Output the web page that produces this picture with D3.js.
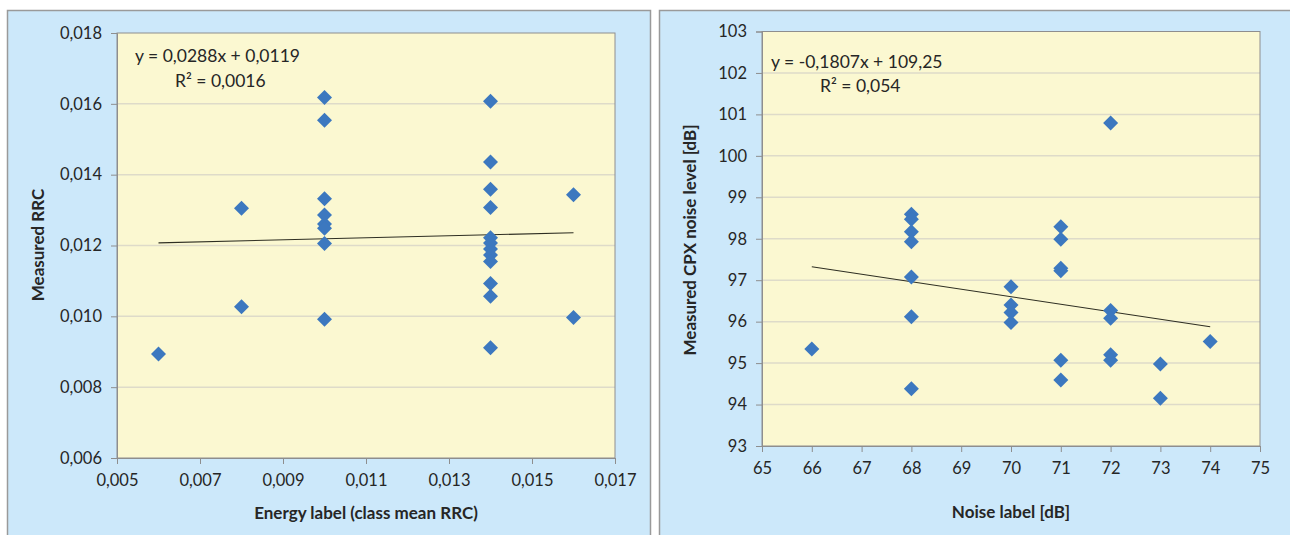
<!DOCTYPE html>
<html>
<head>
<meta charset="utf-8">
<script src="https://cdn.jsdelivr.net/npm/d3@7"></script>
<style>
  html, body { margin: 0; padding: 0; background: #ffffff; }
  svg { display: block; }
  text { font-family: Lato, "Open Sans", sans-serif; fill: #262626; }
</style>
</head>
<body>
<svg id="chart" width="1290" height="535"></svg>
<script>
// ---------- DATA ----------
const leftX = [0.006, 0.008, 0.008, 0.010, 0.010, 0.010, 0.010, 0.010, 0.010, 0.010, 0.010,
               0.014, 0.014, 0.014, 0.014, 0.014, 0.014, 0.014, 0.014, 0.014, 0.014, 0.014, 0.014,
               0.016, 0.016];
const leftY = [0.00894, 0.01305, 0.01027, 0.01618, 0.01554, 0.01332, 0.01286, 0.01261, 0.01249, 0.01206, 0.00992,
               0.01607, 0.01436, 0.01359, 0.01307, 0.01222, 0.01207, 0.01190, 0.01173, 0.01155, 0.01093, 0.01057, 0.00911,
               0.01343, 0.00997];
const leftXTicks = [0.005, 0.007, 0.009, 0.011, 0.013, 0.015, 0.017];
const leftYTicks = [0.006, 0.008, 0.010, 0.012, 0.014, 0.016, 0.018];
const leftTrend = { slope: 0.0288, intercept: 0.0119, x0: 0.006, x1: 0.016 };
const leftEq = ["y = 0,0288x + 0,0119", "R² = 0,0016"];

const rightX = [66, 68, 68, 68, 68, 68, 68, 68, 70, 70, 70, 70,
                71, 71, 71, 71, 71, 71, 72, 72, 72, 72, 72, 73, 73, 74];
const rightY = [95.34, 98.59, 98.47, 98.17, 97.93, 97.08, 96.12, 94.38, 96.84, 96.40, 96.22, 95.98,
                98.29, 97.99, 97.29, 97.23, 95.07, 94.59, 100.79, 96.27, 96.08, 95.20, 95.07, 94.98, 94.15, 95.52];
const rightXTicks = [65, 66, 67, 68, 69, 70, 71, 72, 73, 74, 75];
const rightYTicks = [93, 94, 95, 96, 97, 98, 99, 100, 101, 102, 103];
const rightTrend = { slope: -0.1807, intercept: 109.25, x0: 66, x1: 74 };
const rightEq = ["y = -0,1807x + 109,25", "R² = 0,054"];

// ---------- STYLE ----------
const panelFill = "#CCE8FA";
const panelStroke = "#9A9A9A";
const plotFill = "#FBF8D1";
const plotStroke = "#8E8E8E";
const gridColor = "#DEDBC9";
const markerColor = "#3C78BF";
const trendColor = "#2E2E22";

const locale = d3.formatLocale({ decimal: ",", thousands: ".", grouping: [3], currency: ["", ""] });
const f3 = locale.format(".3f");
const f0 = locale.format("d");

const svg = d3.select("#chart");

function drawPanel(cfg) {
  const g = svg.append("g");
  g.append("rect")
    .attr("x", cfg.panel.x).attr("y", cfg.panel.y)
    .attr("width", cfg.panel.w).attr("height", cfg.panel.h)
    .attr("fill", panelFill).attr("stroke", panelStroke).attr("stroke-width", 1.5);

  const p = cfg.plot;
  const x = d3.scaleLinear().domain(cfg.xDomain).range([p.x0, p.x1]);
  const y = d3.scaleLinear().domain(cfg.yDomain).range([p.y1, p.y0]);

  g.append("rect")
    .attr("x", p.x0).attr("y", p.y0)
    .attr("width", p.x1 - p.x0).attr("height", p.y1 - p.y0)
    .attr("fill", plotFill);

  g.append("g").selectAll("line")
    .data(cfg.yTicks.slice(1, -1))
    .join("line")
    .attr("x1", p.x0).attr("x2", p.x1)
    .attr("y1", d => y(d)).attr("y2", d => y(d))
    .attr("stroke", gridColor).attr("stroke-width", 1.5);

  g.append("rect")
    .attr("x", p.x0).attr("y", p.y0)
    .attr("width", p.x1 - p.x0).attr("height", p.y1 - p.y0)
    .attr("fill", "none").attr("stroke", plotStroke).attr("stroke-width", 1);

  const yAxis = d3.axisLeft(y).tickValues(cfg.yTicks).tickFormat(cfg.yFmt).tickSize(6).tickPadding(9);
  const xAxis = d3.axisBottom(x).tickValues(cfg.xTicks).tickFormat(cfg.xFmt).tickSize(6).tickPadding(cfg.xPad);
  const ya = g.append("g").attr("transform", `translate(${p.x0},0)`).call(yAxis);
  const xa = g.append("g").attr("transform", `translate(0,${p.y1})`).call(xAxis);
  [ya, xa].forEach(a => {
    a.select(".domain").attr("stroke", plotStroke);
    a.selectAll(".tick line").attr("stroke", plotStroke);
    a.selectAll(".tick text").attr("font-size", cfg.tickSize).attr("fill", "#333333")
      .style("font-family", "Lato, 'Open Sans', sans-serif");
  });

  g.append("line")
    .attr("x1", x(cfg.trend.x0)).attr("y1", y(cfg.trend.slope * cfg.trend.x0 + cfg.trend.intercept))
    .attr("x2", x(cfg.trend.x1)).attr("y2", y(cfg.trend.slope * cfg.trend.x1 + cfg.trend.intercept))
    .attr("stroke", trendColor).attr("stroke-width", 1.1);

  const r = 7.5;
  g.append("g").selectAll("path")
    .data(cfg.xs.map((d, i) => [d, cfg.ys[i]]))
    .join("path")
    .attr("transform", d => `translate(${x(d[0])},${y(d[1])})`)
    .attr("d", `M0,${-r}L${r},0L0,${r}L${-r},0Z`)
    .attr("fill", markerColor);

  g.append("text").attr("x", cfg.eq.x1).attr("y", cfg.eq.y1)
    .attr("font-size", 17.5).text(cfg.eqText[0]);
  g.append("text").attr("x", cfg.eq.x2).attr("y", cfg.eq.y2)
    .attr("font-size", 17.5).text(cfg.eqText[1]);

  g.append("text")
    .attr("transform", `translate(${cfg.yTitle.x},${cfg.yTitle.y}) rotate(-90)`)
    .attr("text-anchor", "middle").attr("font-size", 17).attr("font-weight", "bold")
    .text(cfg.yTitle.text);
  g.append("text")
    .attr("x", cfg.xTitle.x).attr("y", cfg.xTitle.y)
    .attr("text-anchor", "middle").attr("font-size", 17).attr("font-weight", "bold")
    .text(cfg.xTitle.text);
}

drawPanel({
  panel: { x: 7.5, y: 10.5, w: 643, h: 535 },
  plot: { x0: 117, x1: 615, y0: 33, y1: 458 },
  xDomain: [0.005, 0.017], yDomain: [0.006, 0.018],
  xTicks: leftXTicks, yTicks: leftYTicks,
  xFmt: f3, yFmt: f3, xPad: 10, tickSize: 16.5,
  xs: leftX, ys: leftY, trend: leftTrend, eqText: leftEq,
  eq: { x1: 135, y1: 62, x2: 175, y2: 87 },
  yTitle: { x: 44, y: 245, text: "Measured RRC" },
  xTitle: { x: 366, y: 519, text: "Energy label (class mean RRC)" }
});

drawPanel({
  panel: { x: 659.5, y: 10.5, w: 632, h: 535 },
  plot: { x0: 762, x1: 1260, y0: 31.5, y1: 446 },
  xDomain: [65, 75], yDomain: [93, 103],
  xTicks: rightXTicks, yTicks: rightYTicks,
  xFmt: f0, yFmt: f0, xPad: 10, tickSize: 16.5,
  xs: rightX, ys: rightY, trend: rightTrend, eqText: rightEq,
  eq: { x1: 771, y1: 68, x2: 820, y2: 92 },
  yTitle: { x: 696, y: 240, text: "Measured CPX noise level [dB]" },
  xTitle: { x: 1011, y: 518, text: "Noise label [dB]" }
});
</script>
</body>
</html>
